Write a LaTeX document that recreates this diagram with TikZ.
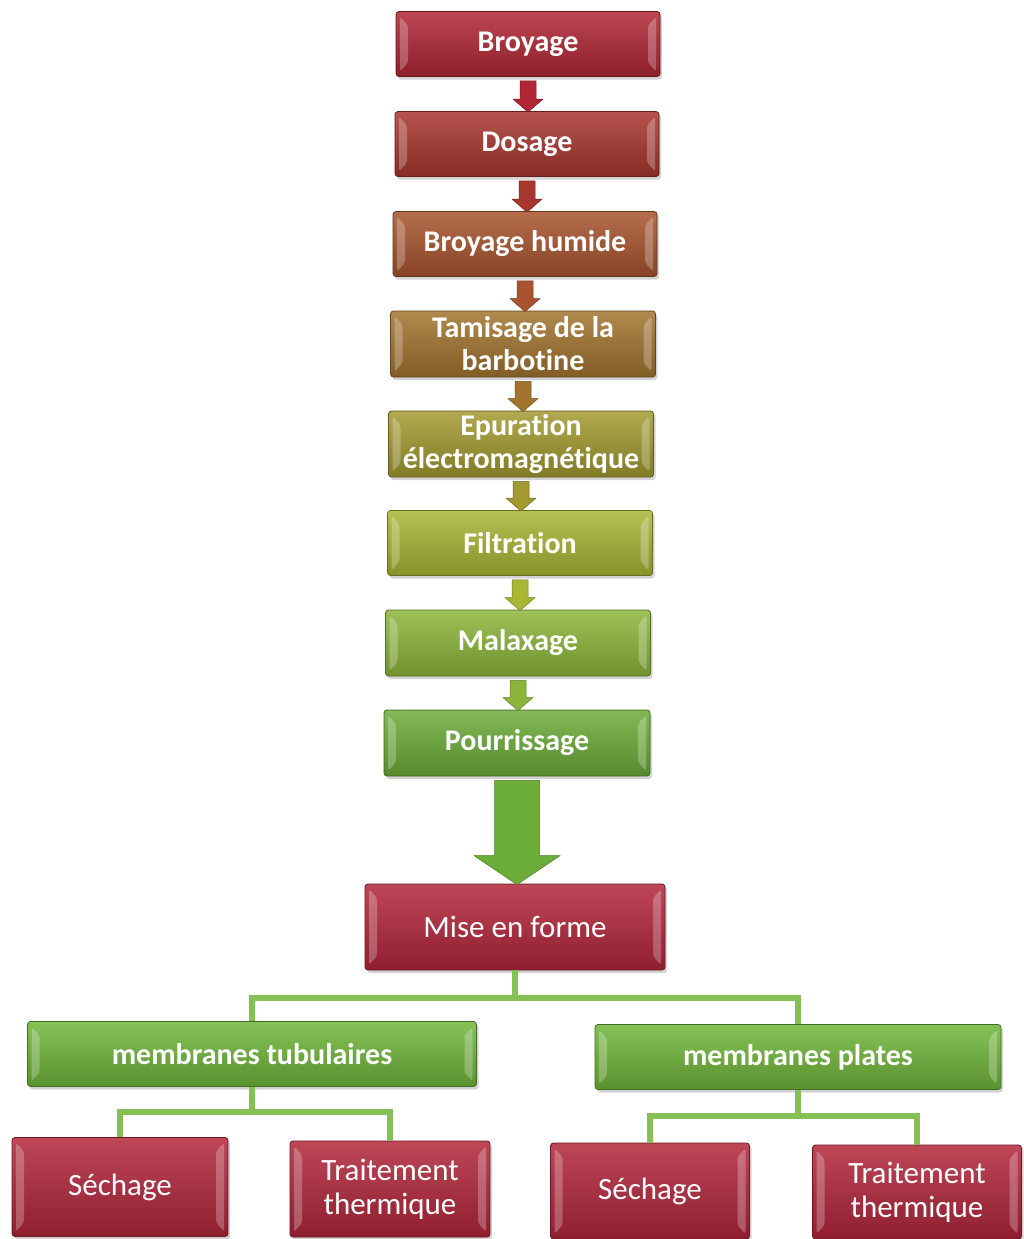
\documentclass[tikz,border=0pt]{standalone}
\usepackage{fontspec}
\setmainfont[Ligatures=NoCommon]{Carlito}
\usetikzlibrary{calc,shadows}
\definecolor{c1}{HTML}{B02634}
\definecolor{c2}{HTML}{A8362E}
\definecolor{c3}{HTML}{A8542E}
\definecolor{c4}{HTML}{A2742E}
\definecolor{c5}{HTML}{A29A30}
\definecolor{c6}{HTML}{A8B634}
\definecolor{c7}{HTML}{8CB63A}
\definecolor{c8}{HTML}{6CAC38}
\definecolor{redbox}{HTML}{B2263A}
\definecolor{greenbox}{HTML}{70B63A}
\definecolor{connc}{HTML}{86BF55}
\tikzset{
  box/.style={rectangle, rounded corners=3pt, draw=#1!60!black, line width=0.8pt,
    top color=#1!85!white, bottom color=#1!80!black, text=white,
    font=\bfseries\fontsize{30}{33}\selectfont, align=center, inner sep=2pt,
    drop shadow={shadow xshift=2pt, shadow yshift=-3pt, opacity=0.35},
    path picture={
      \fill[white,opacity=0.25] ($(path picture bounding box.north west)+(4pt,-5pt)$) --
        ($(path picture bounding box.north west)+(12pt,-14pt)$) --
        ($(path picture bounding box.south west)+(12pt,14pt)$) --
        ($(path picture bounding box.south west)+(4pt,5pt)$) -- cycle;
      \fill[white,opacity=0.25] ($(path picture bounding box.north east)+(-4pt,-5pt)$) --
        ($(path picture bounding box.north east)+(-12pt,-14pt)$) --
        ($(path picture bounding box.south east)+(-12pt,14pt)$) --
        ($(path picture bounding box.south east)+(-4pt,5pt)$) -- cycle;
    }},
  reg/.style={font=\fontsize{31}{34}\selectfont},
  conn/.style={draw=connc, line width=6pt},
}
\newcommand{\blockarrow}[6]{%
  \path let \p1=(#1.south), \p2=(#2.north) in
    [fill=#6, draw=#6!70!black, line width=0.5pt]
    (\x1-#3/2, \y1-4pt) -- (\x1+#3/2, \y1-4pt) -- (\x1+#3/2, \y2+#5) --
    (\x1+#4/2, \y2+#5) -- (\x1, \y2-1pt) -- (\x1-#4/2, \y2+#5) --
    (\x1-#3/2, \y2+#5) -- cycle;}
\begin{document}
\begin{tikzpicture}[x=1pt,y=-1pt]
\useasboundingbox (0,0) rectangle (1023,1239);
\node[box=c1, minimum width=264pt, minimum height=65pt] (b1) at (528,44) {Broyage};
\node[box=c2, minimum width=264pt, minimum height=65pt] (b2) at (527,144) {Dosage};
\node[box=c3, minimum width=264pt, minimum height=65pt] (b3) at (525,244) {Broyage humide};
\node[box=c4, minimum width=265pt, minimum height=66pt] (b4) at (523,344) {Tamisage de la\\barbotine};
\node[box=c5, minimum width=265pt, minimum height=66pt] (b5) at (521,444) {Epuration\\électromagnétique};
\node[box=c6, minimum width=265pt, minimum height=65pt] (b6) at (520,543) {Filtration};
\node[box=c7, minimum width=265pt, minimum height=66pt] (b7) at (518,643) {Malaxage};
\node[box=c8, minimum width=266pt, minimum height=66pt] (b8) at (517,743) {Pourrissage};
\node[box=redbox, reg, minimum width=300pt, minimum height=86pt] (mise) at (515,927) {Mise en forme};
\node[box=greenbox, minimum width=449pt, minimum height=65pt] (tub) at (252,1054) {membranes tubulaires};
\node[box=greenbox, minimum width=406pt, minimum height=65pt] (pla) at (798,1057) {membranes plates};
\node[box=redbox, reg, minimum width=216pt, minimum height=99pt] (s1) at (120,1187) {Séchage};
\node[box=redbox, reg, minimum width=200pt, minimum height=96pt] (t1) at (390,1189) {Traitement\\thermique};
\node[box=redbox, reg, minimum width=199pt, minimum height=96pt] (s2) at (650,1191) {Séchage};
\node[box=redbox, reg, minimum width=209pt, minimum height=94pt] (t2) at (917,1192) {Traitement\\thermique};
\blockarrow{b1}{b2}{16pt}{30pt}{12pt}{c1}
\blockarrow{b2}{b3}{16pt}{30pt}{12pt}{c2}
\blockarrow{b3}{b4}{16pt}{30pt}{12pt}{c3}
\blockarrow{b4}{b5}{16pt}{30pt}{12pt}{c4}
\blockarrow{b5}{b6}{16pt}{30pt}{12pt}{c5}
\blockarrow{b6}{b7}{16pt}{30pt}{12pt}{c6}
\blockarrow{b7}{b8}{16pt}{30pt}{12pt}{c7}
\blockarrow{b8}{mise}{45pt}{86pt}{28pt}{c8}
\coordinate (j1) at (514,998);
\coordinate (j2) at (252,1112);
\coordinate (j3) at (798,1116);
\draw[conn] (mise.south) -- (mise.south |- j1);
\draw[conn] (tub.north) |- (j1) -| (pla.north);
\draw[conn] (tub.south) -- (j2);
\draw[conn] (s1.north) |- (j2) -| (t1.north);
\draw[conn] (pla.south) -- (j3);
\draw[conn] (s2.north) |- (j3) -| (t2.north);
\end{tikzpicture}
\end{document}
